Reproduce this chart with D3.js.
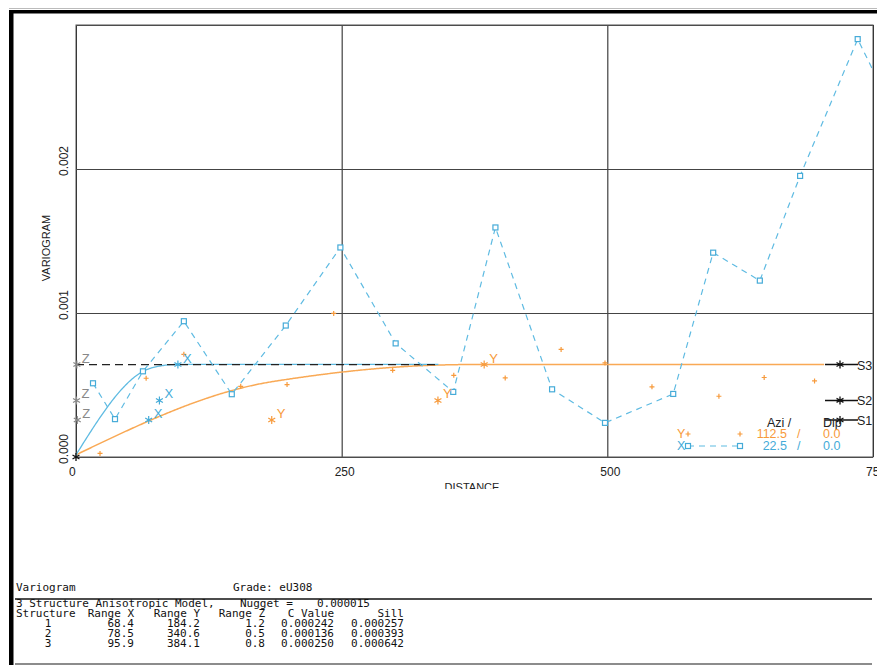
<!DOCTYPE html>
<html>
<head>
<meta charset="utf-8">
<script src="https://cdn.jsdelivr.net/npm/d3@7"></script>
<style>
  body { margin: 0; background: #fff; }
  svg { display: block; }
</style>
</head>
<body>
<svg id="chart" width="877" height="665"></svg>
<script>
// DATA: experimental variogram, azimuth 22.5 (X direction)
const lagX = [16, 36.7, 63, 101.5, 146.6, 197.4, 248.8, 300.8, 355, 394.7, 448, 497.8, 562, 599.6, 643.5, 681.4, 735.6, 781];
const gamX = [0.000512, 0.000263, 0.000595, 0.000943, 0.000436, 0.000913, 0.001455, 0.000789, 0.000452, 0.001594,
              0.00047, 0.000237, 0.000438, 0.001419, 0.001225, 0.001952, 0.002902, 0.00222];

// experimental variogram, azimuth 112.5 (Y direction)
const lagY = [22.6, 66, 101.5, 155, 198.6, 242.5, 298, 355.5, 403.9, 456.5, 497.8, 542, 605, 647.6, 695];
const gamY = [0.000025, 0.000547, 0.000713, 0.000491, 0.000503, 0.000997, 0.000602, 0.000567, 0.000549, 0.000747,
              0.000653, 0.000487, 0.000422, 0.000552, 0.000528];

// model table
const nugget = 0.000015;
const structures = ["1", "2", "3"];
const rangeX = [68.4, 78.5, 95.9];
const rangeY = [184.2, 340.6, 384.1];
const rangeZ = [1.2, 0.5, 0.8];
const cValue = [0.000242, 0.000136, 0.000250];
const sill = [0.000257, 0.000393, 0.000642];

// legend
const legendDir = ["Y", "X"];
const legendAzi = ["112.5", "22.5"];
const legendDip = ["0.0", "0.0"];

// ticks
const xTicks = [0, 250, 500, 750];
const yTicks = [0, 0.001, 0.002, 0.003];
const yLabels = ["0.000", "0.001", "0.002"];

// SETUP
const W = 877, H = 665;
const plot = { left: 76, top: 25, right: 873, bottom: 457 };
const blue = "#45abd8", blueLine = "#5fbbe2", orange = "#f79a3b", orangeLine = "#f9a955";
const sans = "'Liberation Sans', Arial, sans-serif";
const mono = "'DejaVu Sans Mono', 'Liberation Mono', monospace";

const svg = d3.select("#chart");
svg.append("rect").attr("width", W).attr("height", H).attr("fill", "#fff");

// outer frame
svg.append("line").attr("x1", 9).attr("x2", W).attr("y1", 8.5).attr("y2", 8.5).attr("stroke", "#bbb");
svg.append("rect").attr("x", 9).attr("y", 10).attr("width", W - 9).attr("height", 3.5).attr("fill", "#000");
svg.append("rect").attr("x", 9).attr("y", 10).attr("width", 4.5).attr("height", H - 10).attr("fill", "#000");

// SCALES
const x = d3.scaleLinear().domain([0, 750]).range([plot.left, plot.right]);
const y = d3.scaleLinear().domain([0, 0.003]).range([plot.bottom, plot.top]);

svg.append("clipPath").attr("id", "plotClip")
  .append("rect")
  .attr("x", plot.left).attr("y", plot.top)
  .attr("width", plot.right - plot.left).attr("height", plot.bottom - plot.top);

// GRID
const gx = svg.append("g")
  .attr("transform", `translate(0,${plot.bottom})`)
  .call(d3.axisBottom(x).tickValues(xTicks).tickSize(-(plot.bottom - plot.top)).tickFormat(""));
gx.select(".domain").remove();
gx.selectAll("line").attr("stroke", "#1a1a1a");

const gy = svg.append("g")
  .attr("transform", `translate(${plot.left},0)`)
  .call(d3.axisLeft(y).tickValues(yTicks).tickSize(-(plot.right - plot.left)).tickFormat(""));
gy.select(".domain").remove();
gy.selectAll("line").attr("stroke", "#444");

svg.append("rect")
  .attr("x", plot.left).attr("y", plot.top)
  .attr("width", plot.right - plot.left).attr("height", plot.bottom - plot.top)
  .attr("fill", "none").attr("stroke", "#555");

// tick labels
svg.selectAll(".xlab").data(xTicks).join("text")
  .attr("x", d => x(d) - 7).attr("y", 476)
  .attr("font-family", sans).attr("font-size", 12).attr("fill", "#222")
  .text(d => d);

svg.selectAll(".ylab").data(yLabels).join("text")
  .attr("transform", (d, i) => `translate(68,${y(yTicks[i]) + 7}) rotate(-90)`)
  .attr("font-family", sans).attr("font-size", 12).attr("fill", "#222")
  .text(d => d);

svg.append("text")
  .attr("transform", `translate(50,248) rotate(-90)`)
  .attr("text-anchor", "middle")
  .attr("font-family", sans).attr("font-size", 11).attr("fill", "#222")
  .text("VARIOGRAM");

svg.append("clipPath").attr("id", "labClip")
  .append("rect").attr("x", 0).attr("y", 0).attr("width", W).attr("height", 489);
svg.append("text")
  .attr("x", 472).attr("y", 491)
  .attr("text-anchor", "middle")
  .attr("clip-path", "url(#labClip)")
  .attr("font-family", sans).attr("font-size", 11).attr("fill", "#222")
  .text("DISTANCE");

// MODEL
function sph(h, a) {
  const r = h / a;
  return r >= 1 ? 1 : 1.5 * r - 0.5 * r * r * r;
}
function model(h, ranges) {
  if (h === 0) return 0;
  return nugget + d3.sum(cValue, (c, i) => c * sph(h, ranges[i]));
}

const g = svg.append("g").attr("clip-path", "url(#plotClip)");

const modelLine = ranges => d3.line()
  .x(d => x(d))
  .y(d => y(model(d, ranges)));

g.append("path")
  .datum(d3.range(0, 704.5, 1))
  .attr("fill", "none").attr("stroke", orangeLine).attr("stroke-width", 1.5)
  .attr("d", modelLine(rangeY));

g.append("path")
  .datum(d3.range(0, 341.5, 1))
  .attr("fill", "none").attr("stroke", blueLine).attr("stroke-width", 1.3)
  .attr("d", modelLine(rangeX));

g.append("line")
  .attr("x1", x(0)).attr("x2", x(341))
  .attr("y1", y(sill[2])).attr("y2", y(sill[2]))
  .attr("stroke", "#222").attr("stroke-width", 1.3).attr("stroke-dasharray", "8,5");

// EXPERIMENTAL POINTS
const ptsX = lagX.map((d, i) => ({ lag: d, gam: gamX[i] }));
const ptsY = lagY.map((d, i) => ({ lag: d, gam: gamY[i] }));

g.append("path")
  .datum(ptsX)
  .attr("fill", "none").attr("stroke", blueLine).attr("stroke-width", 1.2)
  .attr("stroke-dasharray", "6,5")
  .attr("d", d3.line().x(d => x(d.lag)).y(d => y(d.gam)));

g.selectAll(".sq").data(ptsX).join("rect")
  .attr("x", d => x(d.lag) - 2.5).attr("y", d => y(d.gam) - 2.5)
  .attr("width", 5).attr("height", 5)
  .attr("fill", "#fff").attr("stroke", blue).attr("stroke-width", 1.2);

const plus = (sx, sy, r) => `M${sx - r},${sy}H${sx + r}M${sx},${sy - r}V${sy + r}`;
const star = (sx, sy, r) =>
  `M${sx},${sy - r}V${sy + r}M${sx - r * 0.87},${sy - r * 0.5}L${sx + r * 0.87},${sy + r * 0.5}` +
  `M${sx - r * 0.87},${sy + r * 0.5}L${sx + r * 0.87},${sy - r * 0.5}`;

g.selectAll(".pl").data(ptsY).join("path")
  .attr("d", d => plus(x(d.lag), y(d.gam), 2.5))
  .attr("stroke", orange).attr("stroke-width", 1.2);

// structure markers per direction
const dirs = [
  { ranges: rangeZ, label: "Z", color: "#888" },
  { ranges: rangeX, label: "X", color: blue },
  { ranges: rangeY, label: "Y", color: orange }
];
dirs.forEach(dir => {
  dir.ranges.forEach((r, i) => {
    const px = x(r), py = y(sill[i]);
    svg.append("path").attr("d", star(px, py, 4))
      .attr("stroke", dir.color).attr("stroke-width", 1.2);
    svg.append("text")
      .attr("x", px + 5).attr("y", py - 2)
      .attr("font-family", sans).attr("font-size", 13).attr("fill", dir.color)
      .text(dir.label);
  });
});
svg.append("path").attr("d", star(x(0), y(0), 4)).attr("stroke", "#111").attr("stroke-width", 1.3);

// sill markers on the right
sill.forEach((s, i) => {
  const py = y(s);
  svg.append("line").attr("x1", 825).attr("x2", 858).attr("y1", py).attr("y2", py)
    .attr("stroke", "#111").attr("stroke-width", 1.5);
  svg.append("path").attr("d", star(840, py, 4)).attr("stroke", "#111").attr("stroke-width", 1.3);
  svg.append("text")
    .attr("x", 857).attr("y", py + 5)
    .attr("font-family", sans).attr("font-size", 12.5).attr("fill", "#222")
    .text("S" + structures[i]);
});

// LEGEND
const leg = svg.append("g").attr("font-family", sans).attr("font-size", 12.5);
leg.append("text").attr("x", 767).attr("y", 427).attr("fill", "#222").text("Azi /");
leg.append("text").attr("x", 823).attr("y", 427).attr("fill", "#222").text("Dip");

legendDir.forEach((dname, i) => {
  const ly = 434 + i * 12;
  const col = dname === "Y" ? orange : blue;
  leg.append("text").attr("x", 677).attr("y", ly + 4).attr("fill", col).text(dname);
  if (dname === "X") {
    leg.append("line").attr("x1", 688).attr("x2", 740).attr("y1", ly).attr("y2", ly)
      .attr("stroke", blueLine).attr("stroke-width", 1.2).attr("stroke-dasharray", "6,5");
    [688, 740].forEach(lx => leg.append("rect")
      .attr("x", lx - 2.5).attr("y", ly - 2.5).attr("width", 5).attr("height", 5)
      .attr("fill", "#fff").attr("stroke", blue).attr("stroke-width", 1.2));
  } else {
    [688, 740].forEach(lx => leg.append("path").attr("d", plus(lx, ly, 2.5))
      .attr("stroke", orange).attr("stroke-width", 1.2));
  }
  leg.append("text").attr("x", 787).attr("y", ly + 4).attr("text-anchor", "end").attr("fill", col).text(legendAzi[i]);
  leg.append("text").attr("x", 797).attr("y", ly + 4).attr("fill", col).text("/");
  leg.append("text").attr("x", 823).attr("y", ly + 4).attr("fill", col).text(legendDip[i]);
});

// BOTTOM TABLE
const tb = svg.append("g").attr("font-family", mono).attr("font-size", 11).attr("fill", "#111");
tb.append("text").attr("x", 16).attr("y", 591).text("Variogram");
tb.append("text").attr("x", 233).attr("y", 591).text("Grade: eU308");
svg.append("line").attr("x1", 15).attr("x2", 872).attr("y1", 599).attr("y2", 599)
  .attr("stroke", "#111").attr("stroke-width", 1.5);
svg.append("line").attr("x1", 15).attr("x2", 872).attr("y1", 664).attr("y2", 664)
  .attr("stroke", "#666").attr("stroke-width", 1.5);

const tt = svg.append("g").attr("font-family", mono).attr("font-size", 11).attr("fill", "#111");
tt.append("text").attr("x", 16).attr("y", 607).text(structures.length + " Structure Anisotropic Model,");
tt.append("text").attr("x", 240).attr("y", 607).text("Nugget =");
tt.append("text").attr("x", 317).attr("y", 607).text(nugget.toFixed(6));

const colEnd = [52, 134, 200, 265, 334, 404];
const header = ["Structure", "Range X", "Range Y", "Range Z", "C Value", "Sill"];
header.forEach((h, j) => {
  tt.append("text").attr("x", j === 0 ? 16 : colEnd[j]).attr("y", 617)
    .attr("text-anchor", j === 0 ? "start" : "end").text(h);
});
structures.forEach((s, i) => {
  const ry = 627 + i * 10;
  const cells = [s, rangeX[i].toFixed(1), rangeY[i].toFixed(1), rangeZ[i].toFixed(1),
                 cValue[i].toFixed(6), sill[i].toFixed(6)];
  cells.forEach((c, j) => {
    tt.append("text").attr("x", j === 0 ? 48 : colEnd[j]).attr("y", ry)
      .attr("text-anchor", j === 0 ? "middle" : "end").text(c);
  });
});
</script>
</body>
</html>
